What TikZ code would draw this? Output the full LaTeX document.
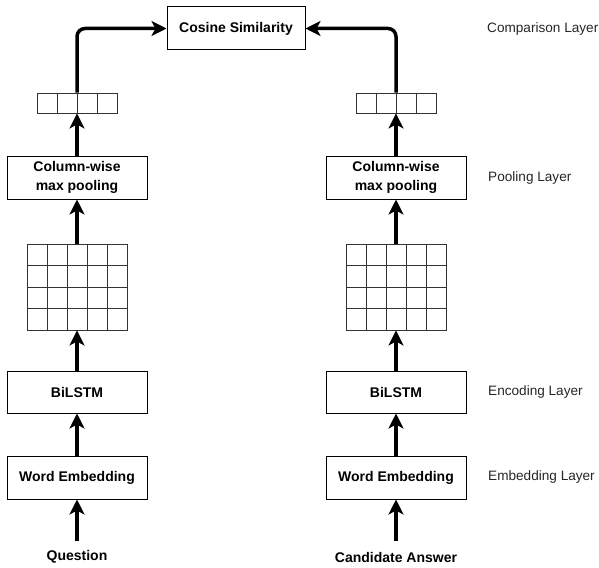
\documentclass[tikz,border=0pt]{standalone}
\usepackage{fontspec}
\setmainfont{Liberation Sans}
\usetikzlibrary{arrows.meta}
\begin{document}
\begin{tikzpicture}[x=1pt,y=-1pt,
  box/.style={draw=black, line width=1pt, fill=white, minimum width=140pt,
    minimum height=43pt, inner sep=0pt, align=center,
    font=\fontsize{14}{19.5}\selectfont\bfseries},
  layerlbl/.style={anchor=west, inner sep=0pt, text=black!85,
    font=\fontsize{13.6}{17}\selectfont},
  inlbl/.style={inner sep=0pt, font=\fontsize{14}{17}\selectfont\bfseries},
  cell/.style={draw=black!80, line width=0.9pt},
  arr/.style={line width=3.5pt, -{Stealth[length=15pt, width=15pt, inset=4pt]}},
  frame/.style={draw=black!80, line width=0.9pt, inner sep=0pt}]
\useasboundingbox (0,0) rectangle (599,567);

% comparison
\node[box, minimum width=138pt] (cos) at (236,28.5) {Cosine Similarity};

% left branch
\node[box] (poolL) at (77,177.5) {Column-wise\\max pooling};
\node[box, minimum height=42pt] (biL) at (77,392) {BiLSTM};
\node[box] (weL) at (77,477.5) {Word Embedding};
\node[inlbl] (qL) at (77,557) {Question};
\coordinate (inL) at (77,541);

% right branch
\node[box] (poolR) at (396,177.5) {Column-wise\\max pooling};
\node[box, minimum height=42pt] (biR) at (396,392) {BiLSTM};
\node[box] (weR) at (396,477.5) {Word Embedding};
\node[inlbl] (qR) at (396,557) {Candidate Answer};
\coordinate (inR) at (396,541);

% pooled vectors (1 x 4)
\node[frame, minimum width=80pt, minimum height=20pt] (vecL) at (77,103) {};
\node[frame, minimum width=80pt, minimum height=20pt] (vecR) at (396,103) {};
\foreach \c in {0,1,2} {
  \draw[cell] (57+20*\c,93) -- (57+20*\c,113);
  \draw[cell] (376+20*\c,93) -- (376+20*\c,113);
}

% hidden-state grids (4 x 5)
\node[frame, minimum width=100pt, minimum height=86pt] (gridL) at (77,287) {};
\node[frame, minimum width=100pt, minimum height=86pt] (gridR) at (396,287) {};
\foreach \c in {1,2,3,4} {
  \draw[cell] (27+20*\c,244) -- (27+20*\c,330);
  \draw[cell] (346+20*\c,244) -- (346+20*\c,330);
}
\foreach \r in {1,2,3} {
  \draw[cell] (27,244+21.5*\r) -- (127,244+21.5*\r);
  \draw[cell] (346,244+21.5*\r) -- (446,244+21.5*\r);
}

% layer labels
\node[layerlbl] (lcmp) at (487,29) {Comparison Layer};
\node[layerlbl] (lpool) at (488,178) {Pooling Layer};
\node[layerlbl] (lenc) at (488,392) {Encoding Layer};
\node[layerlbl] (lemb) at (488,477) {Embedding Layer};

% data flow
\draw[arr] (inL) -- (weL.south);
\draw[arr] (weL.north) -- (biL.south);
\draw[arr] (biL.north) -- (gridL.south);
\draw[arr] (gridL.north) -- (poolL.south);
\draw[arr] (poolL.north) -- (vecL.south);
\draw[arr, rounded corners=8pt] (vecL.north) |- (cos.west);

\draw[arr] (inR) -- (weR.south);
\draw[arr] (weR.north) -- (biR.south);
\draw[arr] (biR.north) -- (gridR.south);
\draw[arr] (gridR.north) -- (poolR.south);
\draw[arr] (poolR.north) -- (vecR.south);
\draw[arr, rounded corners=8pt] (vecR.north) |- (cos.east);
\end{tikzpicture}
\end{document}
